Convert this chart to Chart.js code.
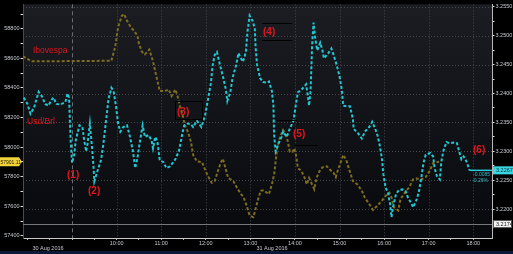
<!DOCTYPE html>
<html><head><meta charset="utf-8">
<script src="https://cdn.jsdelivr.net/npm/chart.js@4.4.1/dist/chart.umd.min.js"></script>
<style>html,body{margin:0;padding:0;background:#000;overflow:hidden}#wrap{width:513px;height:254px;position:relative}canvas{display:block}</style>
</head><body><div id="wrap"><canvas id="c" width="513" height="254"></canvas></div>
<script>
// ---- data ----
const seriesNames = ['Usd/Brl', 'Ibovespa'];
const usdTimes = [
 '07:55','08:00','08:04','08:09','08:15','08:19','08:24','08:28','08:33','08:35',
 '08:39','08:44','08:51','08:54','08:56','08:58','09:00','09:03','09:05','09:10',
 '09:14','09:16','09:19','09:21','09:24','09:27','09:29','09:30','09:34','09:39',
 '09:42','09:46','09:49','09:53','09:56','09:59','10:02','10:05','10:09','10:14',
 '10:18','10:22','10:25','10:28','10:31','10:35','10:38','10:43','10:47','10:49',
 '10:52','10:55','10:58','11:03','11:07','11:12','11:19','11:24','11:29','11:31',
 '11:35','11:40','11:43','11:48','11:54','11:59','12:03','12:07','12:09','12:12',
 '12:15','12:19','12:23','12:27','12:29','12:33','12:36','12:41','12:44','12:46',
 '12:50','12:54','12:56','12:59','13:03','13:06','13:07','13:09','13:13','13:17',
 '13:22','13:25','13:29','13:31','13:32','13:34','13:38','13:42','13:44','13:49',
 '13:53','13:58','14:01','14:04','14:09','14:15','14:17','14:19','14:21','14:22',
 '14:23','14:25','14:27','14:30','14:34','14:37','14:39','14:45','14:49','14:52',
 '14:56','15:00','15:03','15:05','15:10','15:14','15:18','15:19','15:25','15:30',
 '15:34','15:40','15:44','15:48','15:51','15:54','15:57','15:59','16:02','16:05',
 '16:08','16:10','16:12','16:16','16:20','16:25','16:29','16:32','16:37','16:39',
 '16:44','16:47','16:50','16:53','16:56','17:02','17:06','17:08','17:11','17:15',
 '17:17','17:20','17:24','17:28','17:33','17:38','17:41','17:44','17:47','17:51','17:55'];
const usdValues = [
 3.2393,3.2382,3.2365,3.2376,3.2403,3.2396,3.2382,3.2379,3.2390,3.2393,
 3.2382,3.2381,3.2385,3.2400,3.2393,3.2322,3.2280,3.2294,3.2319,3.2345,
 3.2342,3.2322,3.2300,3.2314,3.2348,3.2305,3.2271,3.2248,3.2265,3.2285,
 3.2311,3.2356,3.2390,3.2410,3.2404,3.2379,3.2348,3.2334,3.2342,3.2345,
 3.2325,3.2300,3.2271,3.2288,3.2314,3.2345,3.2325,3.2328,3.2319,3.2305,
 3.2325,3.2316,3.2285,3.2281,3.2271,3.2274,3.2286,3.2301,3.2334,3.2345,
 3.2348,3.2347,3.2342,3.2353,3.2342,3.2362,3.2390,3.2419,3.2447,3.2467,
 3.2472,3.2450,3.2430,3.2407,3.2387,3.2402,3.2427,3.2450,3.2470,3.2464,
 3.2455,3.2472,3.2506,3.2535,3.2526,3.2512,3.2481,3.2450,3.2427,3.2420,
 3.2419,3.2421,3.2404,3.2379,3.2328,3.2300,3.2314,3.2325,3.2334,3.2325,
 3.2339,3.2353,3.2379,3.2402,3.2407,3.2416,3.2399,3.2379,3.2404,3.2441,
 3.2481,3.2523,3.2498,3.2475,3.2488,3.2475,3.2461,3.2470,3.2478,3.2467,
 3.2450,3.2430,3.2407,3.2379,3.2378,3.2378,3.2356,3.2339,3.2331,3.2322,
 3.2334,3.2342,3.2351,3.2339,3.2328,3.2311,3.2288,3.2260,3.2237,3.2229,
 3.2209,3.2186,3.2203,3.2226,3.2233,3.2234,3.2231,3.2220,3.2209,3.2203,
 3.2217,3.2231,3.2254,3.2280,3.2294,3.2297,3.2291,3.2271,3.2257,3.2251,
 3.2282,3.2302,3.2316,3.2314,3.2315,3.2314,3.2300,3.2286,3.2291,3.2282,3.2267];
const ibovTimes = [
 '07:54','08:06','09:53','09:58','10:02','10:07','10:10','10:14','10:19','10:23',
 '10:28','10:30','10:34','10:38','10:44','10:49','10:52','10:55','10:58','11:05',
 '11:10','11:14','11:19','11:22','11:25','11:29','11:32','11:36','11:40','11:43',
 '11:48','11:55','11:59','12:03','12:08','12:12','12:17','12:20','12:23','12:27',
 '12:30','12:37','12:42','12:46','12:51','12:55','12:59','13:04','13:07','13:11',
 '13:14','13:18','13:22','13:25','13:29','13:32','13:34','13:36','13:40','13:44',
 '13:48','13:50','13:53','13:57','13:59','14:01','14:04','14:09','14:14','14:16',
 '14:19','14:22','14:26','14:29','14:33','14:37','14:43','14:47','14:52','14:55',
 '14:58','15:02','15:05','15:09','15:13','15:18','15:24','15:30','15:34','15:40',
 '15:45','15:51','15:57','16:02','16:07','16:10','16:13','16:19','16:22','16:28',
 '16:34','16:39','16:44','16:50','16:56','17:01','17:06','17:14'];
const ibovValues = [
 58614,58580,58584,58678,58811,58888,58900,58855,58811,58789,
 58755,58700,58645,58627,58660,58579,58512,58446,58379,58379,
 58390,58346,58390,58346,58280,58213,58147,58102,58036,57947,
 57903,57898,57848,57803,57759,57770,57848,57892,57921,57848,
 57792,57770,57725,57692,57659,57604,57537,57526,57582,57659,
 57704,57708,57692,57682,57748,57815,57903,57991,58069,58114,
 58080,58047,57969,57969,57991,57958,57858,57836,57781,57748,
 57792,57759,57715,57792,57836,57863,57870,57848,57825,57797,
 57848,57903,57947,57914,57848,57770,57748,57704,57659,57615,
 57575,57604,57637,57670,57692,57659,57593,57571,57648,57692,
 57730,57781,57788,57781,57797,57836,57892,57901.11];
const hourLabels = ['10:00','11:00','12:00','13:00','14:00','15:00','16:00','17:00','18:00'];
const sessionStart = '09:00';
const dateLabels = ['30 Aug 2016', '31 Aug 2016'];
const leftTicks = [57400,57500,57600,57700,57800,57900,58000,58100,58200,58300,58400,58500,58600,58700,58800,58900];
const rightTicks = [3.2175,3.2200,3.2225,3.2250,3.2275,3.2300,3.2325,3.2350,3.2375,3.2400,3.2425,3.2450,3.2475,3.2500,3.2525,3.2550];
const lastIbov = 57901.11;
const lastUsd = 3.2267;
const refLevel = 3.2174;
const usdChange = ['-0.0085', '-0.26%'];
const notes = ['(1)','(2)','(3)','(4)','(5)','(6)'];

// ---- helpers ----
const toH = s => { const p = s.split(':').map(Number); return p[0] + p[1] / 60; };
const usdData = usdTimes.map((t, i) => ({x: toH(t), y: usdValues[i]}));
const ibovData = ibovTimes.map((t, i) => ({x: toH(t), y: ibovValues[i]}));
const xTicks = [];
for (let h = 8; h <= 18; h += 0.5) xTicks.push(h);
const FONT = "'Liberation Sans', Arial, sans-serif";

const overlay = {
  id: 'overlay',
  beforeDraw(chart) {
    const {ctx, chartArea: a, width, height} = chart;
    ctx.save();
    ctx.fillStyle = '#000'; ctx.fillRect(0, 0, width, height);
    const g = ctx.createLinearGradient(0, a.top, 0, a.bottom);
    g.addColorStop(0, '#1c1d22'); g.addColorStop(1, '#08090d');
    ctx.fillStyle = g; ctx.fillRect(a.left, a.top, a.right - a.left, a.bottom - a.top);
    ctx.fillStyle = '#0b1b36'; ctx.fillRect(0, height - 3, width, 3);
    ctx.restore();
  },
  beforeDatasetsDraw(chart) {
    const {ctx, chartArea: a, scales} = chart;
    const x = scales.x, yR = scales.yR;
    ctx.save();
    ctx.lineWidth = 1;
    ctx.strokeStyle = '#44464c';
    ctx.setLineDash([1, 2]);
    rightTicks.forEach(v => {
      if (Math.round(v * 10000) % 50 !== 0) return;
      const y = Math.round(yR.getPixelForValue(v)) + 0.5;
      ctx.beginPath(); ctx.moveTo(a.left, y); ctx.lineTo(a.right, y); ctx.stroke();
    });
    hourLabels.forEach(l => {
      const px = Math.round(x.getPixelForValue(toH(l))) + 0.5;
      ctx.beginPath(); ctx.moveTo(px, a.top); ctx.lineTo(px, a.bottom); ctx.stroke();
    });
    ctx.strokeStyle = '#6a6b70';
    ctx.setLineDash([4, 3]);
    const sx = Math.round(x.getPixelForValue(toH(sessionStart))) + 0.5;
    ctx.beginPath(); ctx.moveTo(sx, a.top); ctx.lineTo(sx, a.bottom); ctx.stroke();
    ctx.setLineDash([]);
    ctx.strokeStyle = '#77787c';
    const ry = Math.round(yR.getPixelForValue(refLevel)) + 0.5;
    ctx.beginPath(); ctx.moveTo(a.left, ry); ctx.lineTo(a.right, ry); ctx.stroke();
    ctx.restore();
  },
  afterDatasetsDraw(chart) {
    const {ctx, chartArea: a, scales, width} = chart;
    const x = scales.x, yR = scales.yR, yL = scales.yL;
    ctx.save();
    // last value line for Usd/Brl
    const lx = x.getPixelForValue(usdData[usdData.length - 1].x);
    const ly = yR.getPixelForValue(lastUsd);
    ctx.strokeStyle = '#27cbd6'; ctx.lineWidth = 1.5;
    ctx.beginPath(); ctx.moveTo(lx, ly); ctx.lineTo(a.right, ly); ctx.stroke();
    // right side value boxes
    ctx.font = '5.5px ' + FONT; ctx.textBaseline = 'middle'; ctx.textAlign = 'left';
    ctx.fillStyle = '#3ad6e2'; ctx.fillRect(a.right + 1, ly - 4, width - a.right - 1, 8);
    ctx.fillStyle = '#0c2c33'; ctx.fillText(lastUsd.toFixed(4), a.right + 4, ly + 0.5);
    const ry = yR.getPixelForValue(refLevel);
    ctx.fillStyle = '#f2f2f2'; ctx.fillRect(a.right + 1, ry - 4, width - a.right - 2, 8);
    ctx.strokeStyle = '#555'; ctx.lineWidth = 1; ctx.strokeRect(a.right + 1.5, ry - 3.5, width - a.right - 3, 7);
    ctx.fillStyle = '#222'; ctx.fillText(refLevel.toFixed(4), a.right + 4, ry + 0.5);
    // change text
    ctx.font = '5px ' + FONT; ctx.textAlign = 'right'; ctx.fillStyle = '#36b9c4';
    ctx.fillText(usdChange[0], a.right - 2, ly + 4.5);
    ctx.fillText(usdChange[1], a.right - 4, ly + 10.5);
    // left yellow box
    const by = yL.getPixelForValue(lastIbov);
    ctx.fillStyle = '#f1d33c';
    ctx.beginPath();
    ctx.moveTo(0, by - 4.5); ctx.lineTo(a.left - 4, by - 4.5); ctx.lineTo(a.left - 1, by);
    ctx.lineTo(a.left - 4, by + 4.5); ctx.lineTo(0, by + 4.5); ctx.closePath(); ctx.fill();
    ctx.fillStyle = '#2a2200'; ctx.textAlign = 'left'; ctx.font = '5px ' + FONT;
    ctx.fillText(lastIbov.toFixed(2), 0.5, by + 0.5);
    // date labels
    ctx.fillStyle = '#c4c8ce'; ctx.textAlign = 'center'; ctx.font = '5.5px ' + FONT;
    ctx.fillText(dateLabels[0], 48, 248.5);
    ctx.fillText(dateLabels[1], 272, 248.5);
    // annotation boxes
    ctx.strokeStyle = '#000'; ctx.lineWidth = 1;
    ctx.strokeRect(175.5, 101.5, 27, 18);
    ctx.beginPath(); ctx.moveTo(262, 23.5); ctx.lineTo(292, 23.5); ctx.moveTo(262, 40.5); ctx.lineTo(292, 40.5); ctx.stroke();
    ctx.beginPath(); ctx.moveTo(277, 120.5); ctx.lineTo(297, 120.5); ctx.moveTo(295, 145.5); ctx.lineTo(318, 145.5); ctx.stroke();
    // series names and notes
    ctx.fillStyle = '#e3161c'; ctx.textAlign = 'left'; ctx.textBaseline = 'middle';
    ctx.font = '8.5px ' + FONT;
    ctx.fillText(seriesNames[1], 33, 51);
    ctx.fillText(seriesNames[0], 27, 122);
    ctx.font = 'bold 10px ' + FONT;
    const pos = [[67,175],[88,191],[177,112],[263,32],[293,134],[473,150]];
    notes.forEach((n, i) => ctx.fillText(n, pos[i][0], pos[i][1]));
    ctx.restore();
  }
};

new Chart(document.getElementById('c'), {
  type: 'line',
  data: {
    datasets: [
      {label: seriesNames[0], data: usdData, yAxisID: 'yR', borderColor: '#1fc8d3', borderWidth: 2,
       borderDash: [3, 2], pointRadius: 0, tension: 0, fill: false},
      {label: seriesNames[1], data: ibovData, yAxisID: 'yL', borderColor: '#7e6c1f', borderWidth: 2,
       borderDash: [3, 2], pointRadius: 0, tension: 0, fill: false}
    ]
  },
  options: {
    responsive: false, animation: false, devicePixelRatio: 1,
    layout: {padding: 0, autoPadding: false},
    plugins: {legend: {display: false}, tooltip: {enabled: false}},
    scales: {
      x: {
        type: 'linear', position: 'bottom', min: 7.9, max: 18.42,
        afterFit: s => { s.height = 16; },
        afterBuildTicks: s => { s.ticks = xTicks.map(v => ({value: v})); },
        ticks: {
          autoSkip: false, maxRotation: 0, minRotation: 0, padding: 0, color: '#c4c8ce',
          font: {family: FONT, size: 5.5},
          callback: v => { const l = hourLabels.find(h => Math.abs(toH(h) - v) < 1e-6); return l || ''; }
        },
        grid: {drawOnChartArea: false, drawTicks: true, tickLength: 2, tickColor: '#aaa'},
        border: {display: true, color: '#c8c8c8', width: 1}
      },
      yL: {
        type: 'linear', position: 'left', min: 57385, max: 58966,
        afterFit: s => { s.width = 23; },
        afterBuildTicks: s => { s.ticks = leftTicks.map(v => ({value: v})); },
        ticks: {
          autoSkip: false, padding: 1, color: '#c8ccd2', font: {family: FONT, size: 5.5},
          callback: v => (v % 200 === 0 ? String(v) : '')
        },
        grid: {drawOnChartArea: false, drawTicks: true, tickLength: 2.5, tickColor: '#ddd'},
        border: {display: true, color: '#4a4b50', width: 1}
      },
      yR: {
        type: 'linear', position: 'right', min: 3.21498, max: 3.25546,
        afterFit: s => { s.width = 21; },
        afterBuildTicks: s => { s.ticks = rightTicks.map(v => ({value: v})); },
        ticks: {
          autoSkip: false, padding: 1, color: '#c8ccd2', font: {family: FONT, size: 5.5},
          callback: v => (Math.round(v * 10000) % 50 === 0 ? v.toFixed(4) : '')
        },
        grid: {drawOnChartArea: false, drawTicks: true, tickLength: 2.5, tickColor: '#ddd'},
        border: {display: true, color: '#b8b8b8', width: 1}
      }
    }
  },
  plugins: [overlay]
});
</script>
</body></html>
